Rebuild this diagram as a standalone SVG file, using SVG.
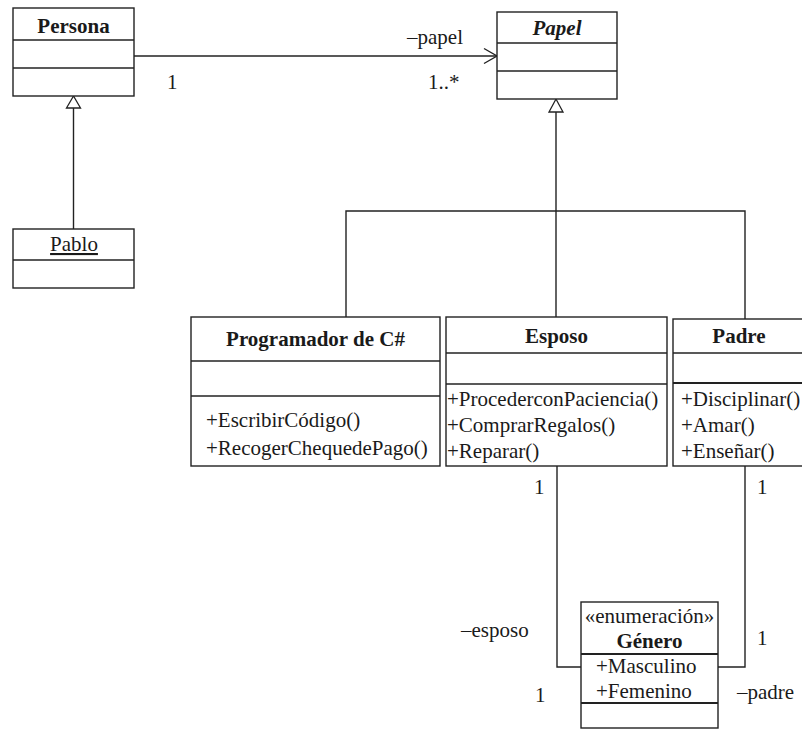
<svg xmlns="http://www.w3.org/2000/svg" width="802" height="729" viewBox="0 0 802 729">
<style>
  .box{fill:#fff;stroke:#222;stroke-width:1.4}
  .ln{stroke:#222;stroke-width:1.4;fill:none}
  .thick{stroke:#222;stroke-width:2.2;fill:none}
  text{font-family:"Liberation Serif","Times New Roman",serif;font-size:21px;fill:#1a1a1a}
  .b{font-weight:bold}
  .c{text-anchor:middle}
</style>
<defs>
  <marker id="tri" viewBox="0 0 16 14" refX="0" refY="7" markerWidth="16" markerHeight="14" markerUnits="userSpaceOnUse" orient="auto">
    <path d="M0,7 L14,0 L14,14 Z" fill="#fff" stroke="#222" stroke-width="1.3" transform="rotate(0)"/>
  </marker>
</defs>
<rect width="802" height="729" fill="#fff"/>

<g id="connectors">
  <!-- Persona -> Papel association -->
  <line class="ln" x1="134" y1="56" x2="497" y2="56"/>
  <polyline class="ln" points="484,48.5 497,56 484,63.5"/>
  <!-- Pablo -> Persona generalization -->
  <line class="ln" x1="73.5" y1="108" x2="73.5" y2="229"/>
  <polygon points="73.5,96 66.5,108 80.5,108" fill="#fff" stroke="#222" stroke-width="1.3"/>
  <!-- Papel generalization tree -->
  <line class="ln" x1="556" y1="112" x2="556" y2="317"/>
  <polygon points="556,99 549,112 563,112" fill="#fff" stroke="#222" stroke-width="1.3"/>
  <polyline class="ln" points="346,317 346,211 745,211 745,319"/>
  <!-- Esposo - Genero -->
  <polyline class="ln" points="557,466 557,667 581,667"/>
  <!-- Padre - Genero -->
  <polyline class="ln" points="745,466 745,667 718,667"/>
  <!-- labels -->
  <text x="407" y="44">–papel</text>
  <text x="428" y="89">1..*</text>
  <text x="167" y="89">1</text>
  <text x="534" y="494">1</text>
  <text x="757" y="494">1</text>
  <text x="461" y="637">–esposo</text>
  <text x="757" y="645">1</text>
  <text x="535" y="702">1</text>
  <text x="737" y="699">–padre</text>
</g>

<g id="persona">
  <rect class="box" x="13" y="8" width="121" height="88"/>
  <line class="ln" x1="13" y1="40" x2="134" y2="40"/>
  <line class="ln" x1="13" y1="68" x2="134" y2="68"/>
  <text class="b c" x="73.5" y="33">Persona</text>
</g>

<g id="pablo">
  <rect class="box" x="13" y="229" width="121" height="59"/>
  <line class="ln" x1="13" y1="260" x2="134" y2="260"/>
  <text class="c" x="74" y="251" text-decoration="underline">Pablo</text>
</g>

<g id="papel">
  <rect class="box" x="497" y="12" width="120" height="87"/>
  <line class="ln" x1="497" y1="43" x2="617" y2="43"/>
  <line class="ln" x1="497" y1="71" x2="617" y2="71"/>
  <text class="b c" x="557" y="35" font-style="italic">Papel</text>
</g>

<g id="programador">
  <rect class="box" x="191" y="317" width="249" height="149"/>
  <line class="ln" x1="191" y1="361" x2="440" y2="361"/>
  <line class="ln" x1="191" y1="396" x2="440" y2="396"/>
  <text class="b c" x="315.5" y="346">Programador de C#</text>
  <text x="206" y="427">+EscribirCódigo()</text>
  <text x="206" y="455">+RecogerChequedePago()</text>
</g>

<g id="esposo">
  <rect class="box" x="446" y="317" width="221" height="149"/>
  <line class="ln" x1="446" y1="353" x2="667" y2="353"/>
  <line class="ln" x1="446" y1="384" x2="667" y2="384"/>
  <text class="b c" x="556.5" y="343">Esposo</text>
  <text x="447" y="406">+ProcederconPaciencia()</text>
  <text x="447" y="432">+ComprarRegalos()</text>
  <text x="447" y="458">+Reparar()</text>
</g>

<g id="padre">
  <rect class="box" x="673" y="319" width="140" height="147"/>
  <line class="ln" x1="673" y1="353" x2="813" y2="353"/>
  <line class="thick" x1="673" y1="383" x2="813" y2="383"/>
  <text class="b c" x="739" y="343">Padre</text>
  <text x="681" y="406">+Disciplinar()</text>
  <text x="681" y="432">+Amar()</text>
  <text x="681" y="458">+Enseñar()</text>
</g>

<g id="genero">
  <rect class="box" x="581" y="602" width="137" height="126"/>
  <line class="thick" x1="581" y1="654" x2="718" y2="654"/>
  <line class="thick" x1="581" y1="703" x2="718" y2="703"/>
  <text class="c" x="649.5" y="623">«enumeración»</text>
  <text class="b c" x="649.5" y="648">Género</text>
  <text x="596" y="673">+Masculino</text>
  <text x="596" y="698">+Femenino</text>
</g>
</svg>
